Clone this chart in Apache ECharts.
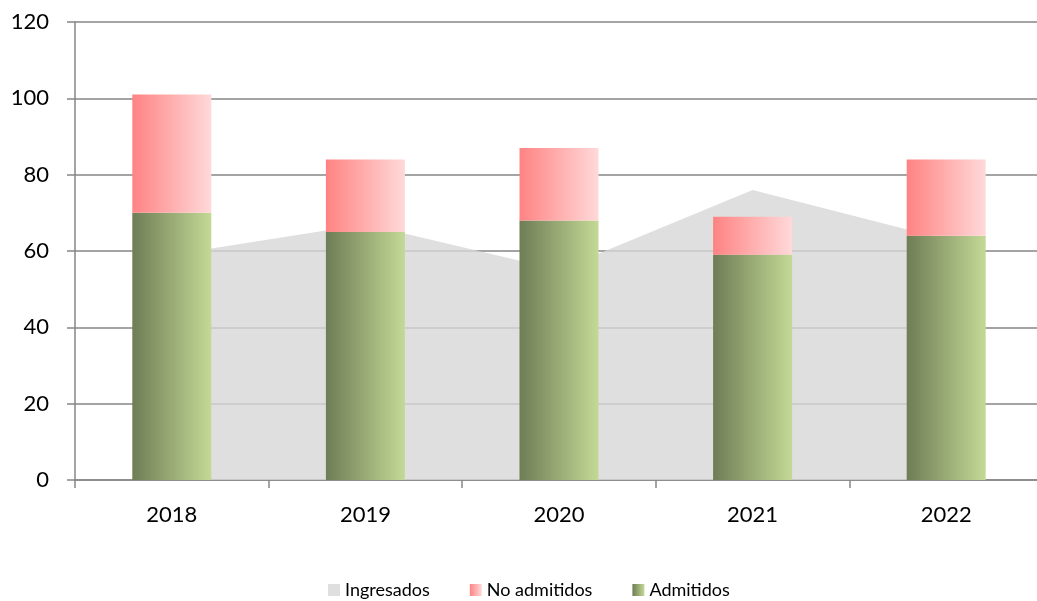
<!DOCTYPE html>
<html><head><meta charset="utf-8">
<script src="https://cdn.jsdelivr.net/npm/echarts@6/dist/echarts.min.js"></script>
<style>html,body{margin:0;padding:0;background:#fff}#c{width:1037px;height:601px}</style>
</head><body><div id="c"></div>
<script>
const categories = ['2018','2019','2020','2021','2022'];
const ingresados = [59, 67, 55, 76, 63];
const admitidos = [70, 65, 68, 59, 64];
const noAdmitidos = [31, 19, 19, 10, 20];
const yTicks = {min: 0, max: 120, interval: 20};

const chart = echarts.init(document.getElementById('c'), null, {renderer: 'canvas'});
const font = 'Lato, "Open Sans", sans-serif';
const grad = (a, b) => new echarts.graphic.LinearGradient(0, 0, 1, 0, [{offset: 0, color: a}, {offset: 1, color: b}]);
chart.setOption({
  animation: false,
  backgroundColor: '#fff',
  textStyle: {fontFamily: font},
  grid: {left: 75, width: 968, top: 22, height: 458, containLabel: false, outerBoundsMode: 'none'},
  legend: {
    data: ['Ingresados', 'No admitidos', 'Admitidos'],
    top: 576, left: 323,
    itemWidth: 12, itemHeight: 12, itemGap: 40,
    icon: 'rect',
    textStyle: {fontSize: 18, color: '#000', fontFamily: font}
  },
  xAxis: {
    type: 'category', data: categories, boundaryGap: true,
    axisLine: {lineStyle: {color: '#868686', width: 1.5}},
    axisTick: {show: true, length: 8, lineStyle: {color: '#868686', width: 1.5}},
    axisLabel: {fontSize: 22, color: '#000', margin: 24, fontFamily: font}
  },
  yAxis: {
    type: 'value', min: yTicks.min, max: yTicks.max, interval: yTicks.interval,
    axisLine: {show: true, lineStyle: {color: '#868686', width: 1.5}},
    axisTick: {show: true, length: 8, lineStyle: {color: '#868686', width: 1.5}},
    splitLine: {lineStyle: {color: '#868686', width: 1.5}},
    axisLabel: {fontSize: 22, color: '#000', margin: 26, fontFamily: font}
  },
  series: [
    {
      name: 'Ingresados', type: 'line', data: ingresados,
      symbol: 'none', showSymbol: false,
      lineStyle: {width: 0, color: '#d7d7d7'},
      itemStyle: {color: '#dfdfdf'},
      areaStyle: {color: 'rgba(215,215,215,0.8)', opacity: 1},
      z: 2
    },
    {
      name: 'Admitidos', type: 'bar', stack: 'total', data: admitidos,
      barWidth: 79,
      itemStyle: {color: grad('#6e7d55', '#c4d996')},
      z: 3
    },
    {
      name: 'No admitidos', type: 'bar', stack: 'total', data: noAdmitidos,
      barWidth: 79,
      itemStyle: {color: grad('#ff8383', '#ffd9d9')},
      z: 3
    }
  ]
});
</script></body></html>
